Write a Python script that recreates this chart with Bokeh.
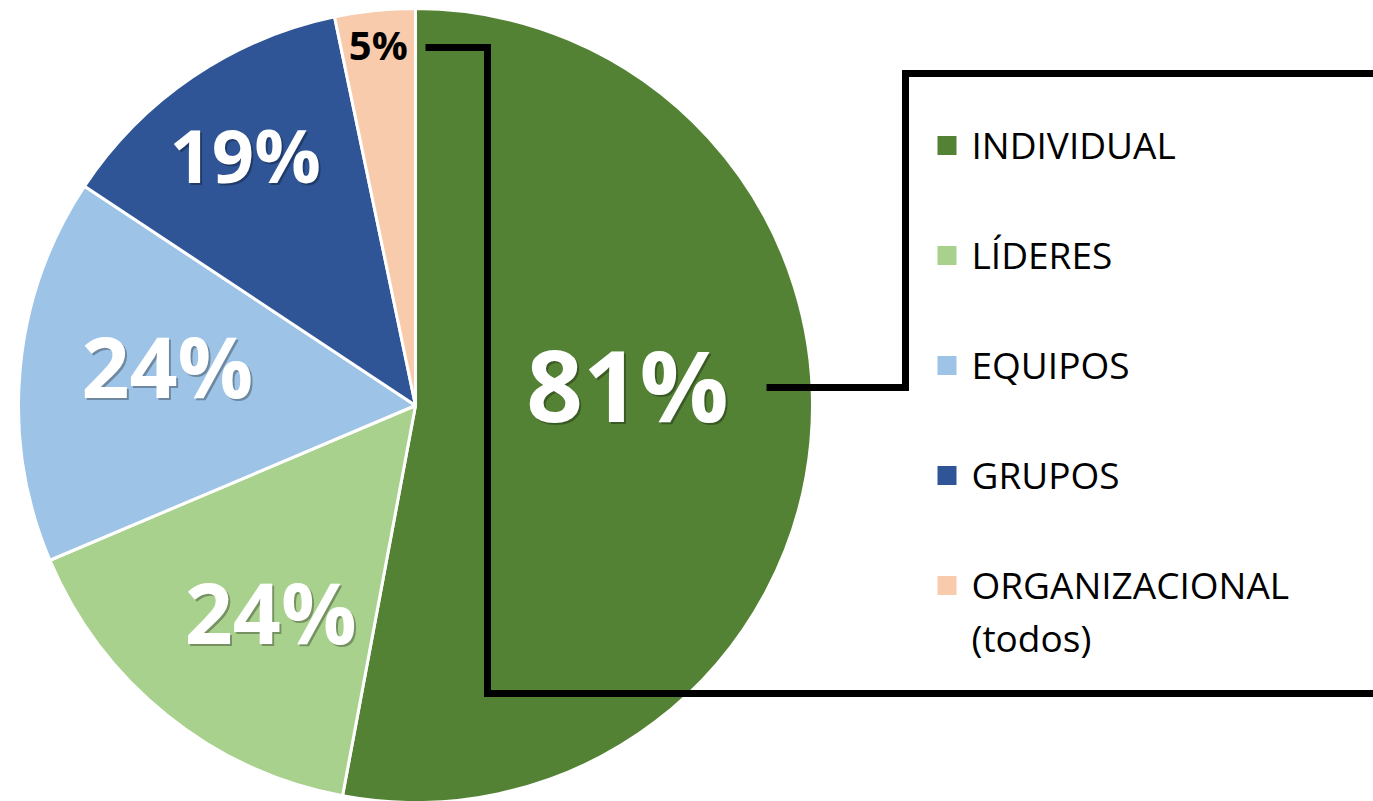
import math
from bokeh.plotting import figure
from bokeh.models import Range1d, ColumnDataSource
from bokeh.core.properties import value
from bokeh.embed import file_html
from bokeh.resources import INLINE

# ---------------- data ----------------
categories = ["INDIVIDUAL", "LÍDERES", "EQUIPOS", "GRUPOS", "ORGANIZACIONAL\n(todos)"]
values = [81, 24, 24, 19, 5]
labels = ["81%", "24%", "24%", "19%", "5%"]
colors = ["#548235", "#A9D18E", "#9DC3E6", "#2F5597", "#F8CBAD"]

# ---------------- layout ----------------
W, H = 1373, 801


def Y(py):
    return H - py


CX, CY, R = 415, Y(405), 397
label_rfrac = [0.537, 0.634, 0.633, 0.765, 0.914]
label_dtheta = [-11.2, -3.7, 3.9, 0.0, 0.0]
label_sizes = ["99px", "84px", "84px", "74px", "40px"]
label_colors = ["white", "white", "white", "white", "black"]
FONT = "Open Sans"

p = figure(width=W, height=H, x_range=Range1d(0, W), y_range=Range1d(0, H),
           output_backend="svg", toolbar_location=None, x_axis_type=None, y_axis_type=None,
           min_border=0, outline_line_color=None, background_fill_color="white",
           border_fill_color="white")

total = float(sum(values))
starts, ends, mids = [], [], []
cum = 0.0
for v in values:
    f0 = cum / total
    cum += v
    f1 = cum / total
    starts.append(math.pi / 2 - 2 * math.pi * f0)
    ends.append(math.pi / 2 - 2 * math.pi * f1)
    mids.append(360.0 * (f0 + f1) / 2)  # degrees clockwise from top

src = ColumnDataSource(dict(start=starts, end=ends, color=colors))
p.wedge(x=CX, y=CY, radius=R, start_angle="start", end_angle="end", direction="clock",
        fill_color="color", line_color="white", line_width=3, source=src)

# data labels
lx, ly = [], []
for i in range(len(values)):
    th = math.radians(mids[i] + label_dtheta[i])
    lx.append(CX + label_rfrac[i] * R * math.sin(th))
    ly.append(CY + label_rfrac[i] * R * math.cos(th))

for i in range(len(values)):
    if label_colors[i] == "white":
        p.text(x=[lx[i] + 2], y=[ly[i] - 2], text=[labels[i]], text_font=value(FONT),
               text_font_style="bold", text_font_size=value(label_sizes[i]),
               text_color="#000000", text_alpha=0.3, text_align="center",
               text_baseline="middle")
    p.text(x=[lx[i]], y=[ly[i]], text=[labels[i]], text_font=value(FONT),
           text_font_style="bold", text_font_size=value(label_sizes[i]),
           text_color=label_colors[i], text_align="center", text_baseline="middle")

# callout lines
p.line(x=[766, 905, 905, 1390], y=[Y(387), Y(387), Y(73), Y(73)], line_width=7,
       line_color="black", line_join="miter")
p.line(x=[425, 487, 487, 1390], y=[Y(47), Y(47), Y(693), Y(693)], line_width=7,
       line_color="black", line_join="miter")

# legend
for i, cat in enumerate(categories):
    yc = 145 + 110 * i
    p.scatter(x=[946.5], y=[Y(yc)], marker="square", size=19, fill_color=colors[i],
              line_color=colors[i], line_width=0)
    for k, line in enumerate(cat.split("\n")):
        p.text(x=[971], y=[Y(yc - 1 + 53 * k)], text=[line], text_font=value(FONT),
               text_font_size=value("37px"), text_color="black", text_align="left",
               text_baseline="alphabetic")

open("out.html", "w").write(file_html(p, INLINE))
